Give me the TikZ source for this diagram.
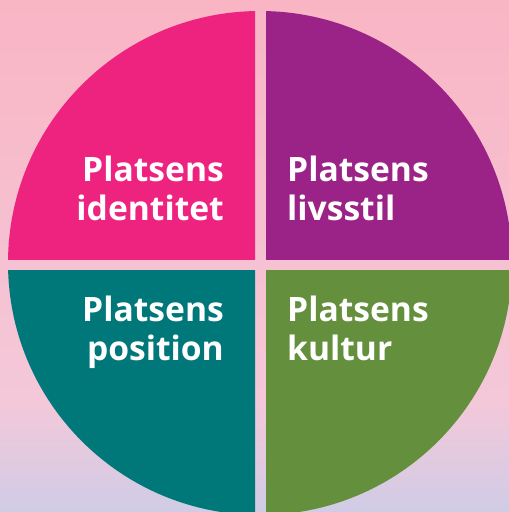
\documentclass[tikz,border=0pt]{standalone}
\usepackage{fontspec}
\setmainfont{Open Sans}
\definecolor{bgtop}{HTML}{F9B5C4}
\definecolor{bgmid}{HTML}{F4C8D9}
\definecolor{bglow}{HTML}{D0CCE6}
\definecolor{identcol}{HTML}{EE2380}
\definecolor{livcol}{HTML}{9B2387}
\definecolor{poscol}{HTML}{00787A}
\definecolor{kultcol}{HTML}{648F3C}
\tikzset{quarter label/.style={text=white,inner sep=0pt,font=\fontsize{33.6}{39}\selectfont\bfseries}}

\begin{document}
\begin{tikzpicture}[x=1pt,y=-1pt]
  \useasboundingbox (0,0) rectangle (509,512);
  \fill[top color=bgtop,bottom color=bgmid] (0,0) rectangle (509,400);
  \fill[top color=bgmid,bottom color=bglow] (0,400) rectangle (509,512);
  \begin{scope}
    \clip (0,0) rectangle (255,259);
    \fill[identcol] (260,263) circle (252);
  \end{scope}
  \begin{scope}
    \clip (266,0) rectangle (509,259);
    \fill[livcol] (260,263) circle (252);
  \end{scope}
  \begin{scope}
    \clip (0,270) rectangle (255,512);
    \fill[poscol] (260,263) circle (252);
  \end{scope}
  \begin{scope}
    \clip (266,270) rectangle (509,512);
    \fill[kultcol] (260,263) circle (252);
  \end{scope}
  \node[quarter label,align=right,anchor=base east] (identitet) at (224,220) {Platsens\\identitet};
  \node[quarter label,align=left,anchor=base west] (livsstil) at (287,220) {Platsens\\livsstil};
  \node[quarter label,align=right,anchor=base east] (position) at (224,360) {Platsens\\position};
  \node[quarter label,align=left,anchor=base west] (kultur) at (287,360) {Platsens\\kultur};
\end{tikzpicture}
\end{document}
